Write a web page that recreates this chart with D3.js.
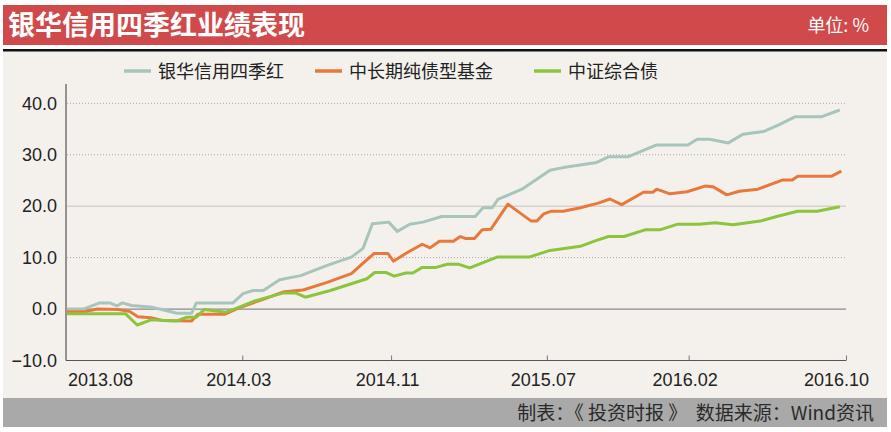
<!DOCTYPE html>
<html lang="zh">
<head>
<meta charset="UTF-8">
<title>银华信用四季红业绩表现</title>
<script src="https://d3js.org/d3.v7.min.js"></script>
<style>
  body { margin: 0; background: #fff; }
  text { font-family: "Liberation Sans", "Noto Sans CJK SC", sans-serif; }
  .cjk { font-family: "Noto Sans CJK SC", sans-serif; }
</style>
</head>
<body>
<div id="chart"></div>
<script>
// period index along the x axis (0 = 2013.08, 100 = 2016.10)
const tickPos = [0, 22.5, 41.6, 61.6, 79.8, 100];
const tickLabels = ["2013.08", "2014.03", "2014.11", "2015.07", "2016.02", "2016.10"];
const yTicks = [-10, 0, 10, 20, 30, 40];

const seriesNames = ["银华信用四季红", "中长期纯债型基金", "中证综合债"];
const seriesColors = ["#a7c5bb", "#e8793a", "#8dc43d"];

// [period index, cumulative return %]
const yinhua = [[0,0.0],[2.1,0.0],[4.2,1.2],[5.5,1.2],[6.4,0.6],[7.1,1.2],[8.3,0.7],[10.7,0.4],[11.9,0.0],
  [14.1,-0.8],[16.0,-0.8],[16.6,1.2],[21.3,1.2],[22.6,3.0],[23.9,3.6],[25.2,3.6],[27.3,5.7],[30.0,6.5],
  [33.4,8.5],[36.5,10.1],[38.0,11.8],[39.2,16.6],[41.3,16.9],[42.4,15.1],[44.0,16.5],[45.7,16.9],[48.1,18.0],
  [52.4,18.0],[53.4,19.7],[54.6,19.7],[55.3,21.3],[58.4,23.3],[62.0,27.0],[63.7,27.5],[68.0,28.5],[69.5,29.6],
  [72.0,29.6],[73.3,30.4],[75.7,31.9],[79.7,31.9],[80.9,33.0],[82.5,33.0],[84.9,32.3],[86.8,34.0],[89.4,34.5],
  [91.5,35.9],[93.5,37.4],[96.9,37.4],[99.2,38.7]];

const midLong = [[0,-0.5],[2.3,-0.5],[3.9,0.0],[6.6,-0.1],[8.1,-0.5],[9.1,-1.5],[10.8,-1.7],[12.2,-2.2],
  [16.0,-2.3],[16.8,-1.0],[20.3,-1.0],[22.0,0.2],[25.0,1.8],[27.7,3.3],[30.3,3.7],[33.4,5.2],[36.5,6.9],
  [39.4,10.8],[41.2,10.8],[41.9,9.3],[43.8,11.1],[45.6,12.6],[46.6,11.9],[47.8,13.2],[49.6,13.2],[50.5,14.1],
  [51.2,13.7],[52.3,13.7],[53.3,15.4],[54.4,15.5],[56.6,20.4],[59.6,17.1],[60.3,17.1],[61.2,18.5],[62.1,19.0],
  [63.7,19.0],[65.9,19.7],[68.2,20.6],[69.7,21.4],[71.2,20.3],[74.0,22.7],[75.2,22.7],[75.7,23.3],[77.4,22.4],
  [79.6,22.8],[81.9,23.9],[82.9,23.8],[84.7,22.2],[86.3,22.9],[88.7,23.3],[91.9,25.1],[93.1,25.1],[93.8,25.8],
  [98.1,25.8],[99.4,26.8]];

const bondIndex = [[0,-0.9],[7.5,-0.9],[9.0,-3.1],[10.8,-2.1],[12.6,-2.2],[14.1,-2.3],[15.3,-1.6],[16.6,-1.6],
  [17.6,-0.1],[20.4,-0.6],[21.8,0.2],[24.1,1.6],[27.7,3.1],[29.4,3.1],[30.6,2.3],[33.8,3.6],[38.5,5.9],
  [39.5,7.1],[41.0,7.1],[42.0,6.4],[43.5,7.0],[44.4,7.0],[45.6,8.1],[47.4,8.1],[48.8,8.7],[50.3,8.7],
  [51.7,8.0],[55.2,10.1],[59.3,10.1],[62.0,11.4],[65.9,12.2],[67.7,13.2],[69.5,14.1],[71.5,14.1],[74.2,15.4],
  [76.1,15.4],[78.4,16.5],[81.1,16.5],[83.2,16.8],[85.5,16.4],[89.0,17.1],[91.1,18.0],[93.8,19.0],[96.3,19.0],
  [99.2,19.9]];

const W = 891, H = 432;
const svg = d3.select("#chart").append("svg")
  .attr("width", W).attr("height", H);

// panel background
svg.append("rect").attr("x", 3).attr("y", 5).attr("width", 884).attr("height", 422).attr("fill", "#f4f1ec");

// header band
svg.append("rect").attr("x", 3).attr("y", 5).attr("width", 884).attr("height", 40).attr("fill", "#d0494b");
svg.append("rect").attr("x", 3).attr("y", 45).attr("width", 884).attr("height", 4).attr("fill", "#fff");
svg.append("rect").attr("x", 3).attr("y", 49).attr("width", 884).attr("height", 2.5).attr("fill", "#111");
svg.append("text").attr("class", "cjk")
  .attr("x", 8).attr("y", 35)
  .attr("font-size", "27px").attr("font-weight", "bold").attr("fill", "#fff")
  .text("银华信用四季红业绩表现");
svg.append("text").attr("class", "cjk")
  .attr("x", 869).attr("y", 32).attr("text-anchor", "end")
  .attr("font-size", "18px").attr("fill", "#fff")
  .text("单位: %");

// footer band
svg.append("rect").attr("x", 3).attr("y", 398).attr("width", 884).attr("height", 29).attr("fill", "#a9a9a9");
svg.append("text").attr("class", "cjk")
  .attr("x", 874).attr("y", 420).attr("text-anchor", "end")
  .attr("font-size", "19px").attr("fill", "#2a2a2a")
  .style("white-space", "pre")
  .text("制表：《 投资时报 》  数据来源：Wind资讯");

// scales
const x = d3.scaleLinear().domain([0, 100]).range([67, 846]);
const y = d3.scaleLinear().domain([-10, 40]).range([360.5, 103.3]);

// grid
const grid = svg.append("g");
yTicks.filter(d => d > 0).forEach(d => {
  grid.append("line")
    .attr("x1", x(0)).attr("x2", x(100))
    .attr("y1", y(d)).attr("y2", y(d))
    .attr("stroke", d === 20 ? "#c4c2bd" : "#aaa8a3")
    .attr("stroke-width", 1)
    .attr("stroke-dasharray", d === 20 ? null : "1,2");
});
grid.append("line")
  .attr("x1", x(0)).attr("x2", x(100))
  .attr("y1", y(0)).attr("y2", y(0))
  .attr("stroke", "#8a8a8a").attr("stroke-width", 1.2);

// y axis
const yAxis = svg.append("g")
  .attr("transform", `translate(${x(0) - 1},0)`)
  .call(d3.axisLeft(y).tickValues(yTicks).tickSize(0).tickPadding(9).tickFormat(d3.format(".1f")));
yAxis.select(".domain").remove();
yAxis.selectAll("text").attr("font-size", "18px").attr("fill", "#222")
  .style("font-family", "'Liberation Sans', sans-serif");
svg.append("line")
  .attr("x1", x(0) - 1).attr("x2", x(0) - 1)
  .attr("y1", 84).attr("y2", y(-10))
  .attr("stroke", "#555").attr("stroke-width", 1.2);

// x axis
const xAxis = svg.append("g")
  .attr("transform", `translate(0,${y(-10)})`)
  .call(d3.axisBottom(x).tickValues(tickPos).tickSize(-5).tickPadding(13)
    .tickFormat((d, i) => tickLabels[i]));
xAxis.select(".domain").attr("stroke", "#555").attr("stroke-width", 1.2)
  .attr("d", `M${x(0) - 1},0H${x(100)}`);
xAxis.selectAll(".tick line").attr("stroke", "#777");
xAxis.selectAll(".tick").filter((d, i) => i === 0).select("line").remove();
xAxis.selectAll("text").attr("font-size", "18px").attr("fill", "#222")
  .style("font-family", "'Liberation Sans', sans-serif")
  .attr("dx", (d, i) => i === 0 ? 33 : (i === tickPos.length - 1 ? -10 : -4));

// lines
const line = d3.line().x(d => x(d[0])).y(d => y(d[1]));
[yinhua, midLong, bondIndex].forEach((s, i) => {
  svg.append("path")
    .datum(s)
    .attr("d", line)
    .attr("fill", "none")
    .attr("stroke", seriesColors[i])
    .attr("stroke-width", 3)
    .attr("stroke-linejoin", "round");
});

// legend
const legendX = [124, 315, 534];
const legend = svg.append("g");
seriesNames.forEach((n, i) => {
  legend.append("line")
    .attr("x1", legendX[i]).attr("x2", legendX[i] + 27)
    .attr("y1", 71).attr("y2", 71)
    .attr("stroke", seriesColors[i]).attr("stroke-width", 3.5);
  legend.append("text").attr("class", "cjk")
    .attr("x", legendX[i] + 34).attr("y", 78)
    .attr("font-size", "18px").attr("fill", "#222")
    .text(n);
});
</script>
</body>
</html>
